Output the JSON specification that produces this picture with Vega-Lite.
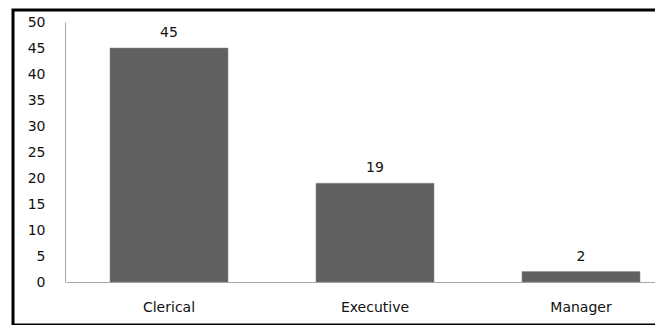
{
  "$schema": "https://vega.github.io/schema/vega-lite/v6.json",
  "autosize": "none",
  "padding": {"left": 13, "top": 10, "right": 0, "bottom": 0},
  "width": 700,
  "height": 315,
  "background": "white",
  "config": {
    "view": {"stroke": "black", "strokeWidth": 3},
    "font": "DejaVu Sans"
  },
  "data": {
    "values": [
      {"category": "Clerical", "count": 45},
      {"category": "Executive", "count": 19},
      {"category": "Manager", "count": 2}
    ]
  },
  "encoding": {
    "x": {
      "field": "category",
      "type": "nominal",
      "sort": null,
      "scale": {"range": [53, 671], "paddingInner": 0.427, "paddingOuter": 0.2135},
      "axis": {
        "title": null,
        "orient": "bottom",
        "offset": -43,
        "labelAngle": 0,
        "ticks": false,
        "domainColor": "#a6a6a6",
        "domainWidth": 1,
        "labelPadding": 18,
        "labelFontSize": 14,
        "labelColor": "#111111",
        "labelFont": "DejaVu Sans"
      }
    },
    "y": {
      "field": "count",
      "type": "quantitative",
      "scale": {"domain": [0, 50], "range": [272, 12], "nice": false},
      "axis": {
        "title": null,
        "orient": "left",
        "offset": -52,
        "values": [0, 5, 10, 15, 20, 25, 30, 35, 40, 45, 50],
        "grid": false,
        "ticks": false,
        "domainColor": "#a6a6a6",
        "domainWidth": 1,
        "labelPadding": 20,
        "labelFontSize": 14,
        "labelColor": "#111111",
        "labelFont": "DejaVu Sans"
      }
    }
  },
  "layer": [
    {
      "mark": {"type": "bar", "color": "#606060", "stroke": "#8a8a8a", "strokeWidth": 0.5}
    },
    {
      "mark": {"type": "text", "dy": -15, "fontSize": 14, "color": "#111111", "font": "DejaVu Sans"},
      "encoding": {"text": {"field": "count", "type": "quantitative"}}
    }
  ]
}
